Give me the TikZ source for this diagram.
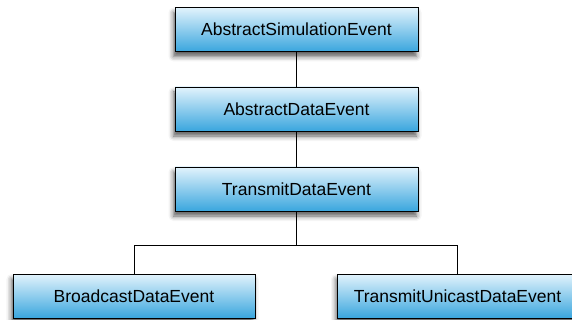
\documentclass[tikz,border=0pt]{standalone}
\usepackage{fontspec}
\setmainfont{Liberation Sans}
\usetikzlibrary{shadows.blur}
\definecolor{boxtop}{RGB}{226,243,252}
\definecolor{boxbottom}{RGB}{58,166,222}
\tikzset{
  classbox/.style={draw=black, line width=0.9pt, top color=boxtop, bottom color=boxbottom,
    minimum height=44pt, inner sep=0pt, font=\fontsize{17.5}{20}\selectfont,
    blur shadow={shadow xshift=-1.5pt, shadow yshift=-5pt, shadow blur radius=5pt, shadow opacity=65}},
  link/.style={draw=black, line width=0.9pt}
}
\begin{document}
\begin{tikzpicture}[x=1pt, y=-1pt]
  \useasboundingbox (0,0) rectangle (572,320);
  % class hierarchy
  \node[classbox, minimum width=243pt] (sim) at (296.5,29.5) {AbstractSimulationEvent};
  \node[classbox, minimum width=243pt] (data) at (296.5,109) {AbstractDataEvent};
  \node[classbox, minimum width=243pt] (tx) at (296.5,189) {TransmitDataEvent};
  \node[classbox, minimum width=242pt] (bc) at (134,296) {BroadcastDataEvent};
  \node[classbox, minimum width=240pt] (uc) at (457.5,296) {TransmitUnicastDataEvent};
  \coordinate (fork) at (296.5,245);
  % connectors
  \draw[link] (sim) -- (data);
  \draw[link] (data) -- (tx);
  \draw[link] (tx) -- (fork);
  \draw[link] (fork) -| (bc);
  \draw[link] (fork) -| (uc);
\end{tikzpicture}
\end{document}
